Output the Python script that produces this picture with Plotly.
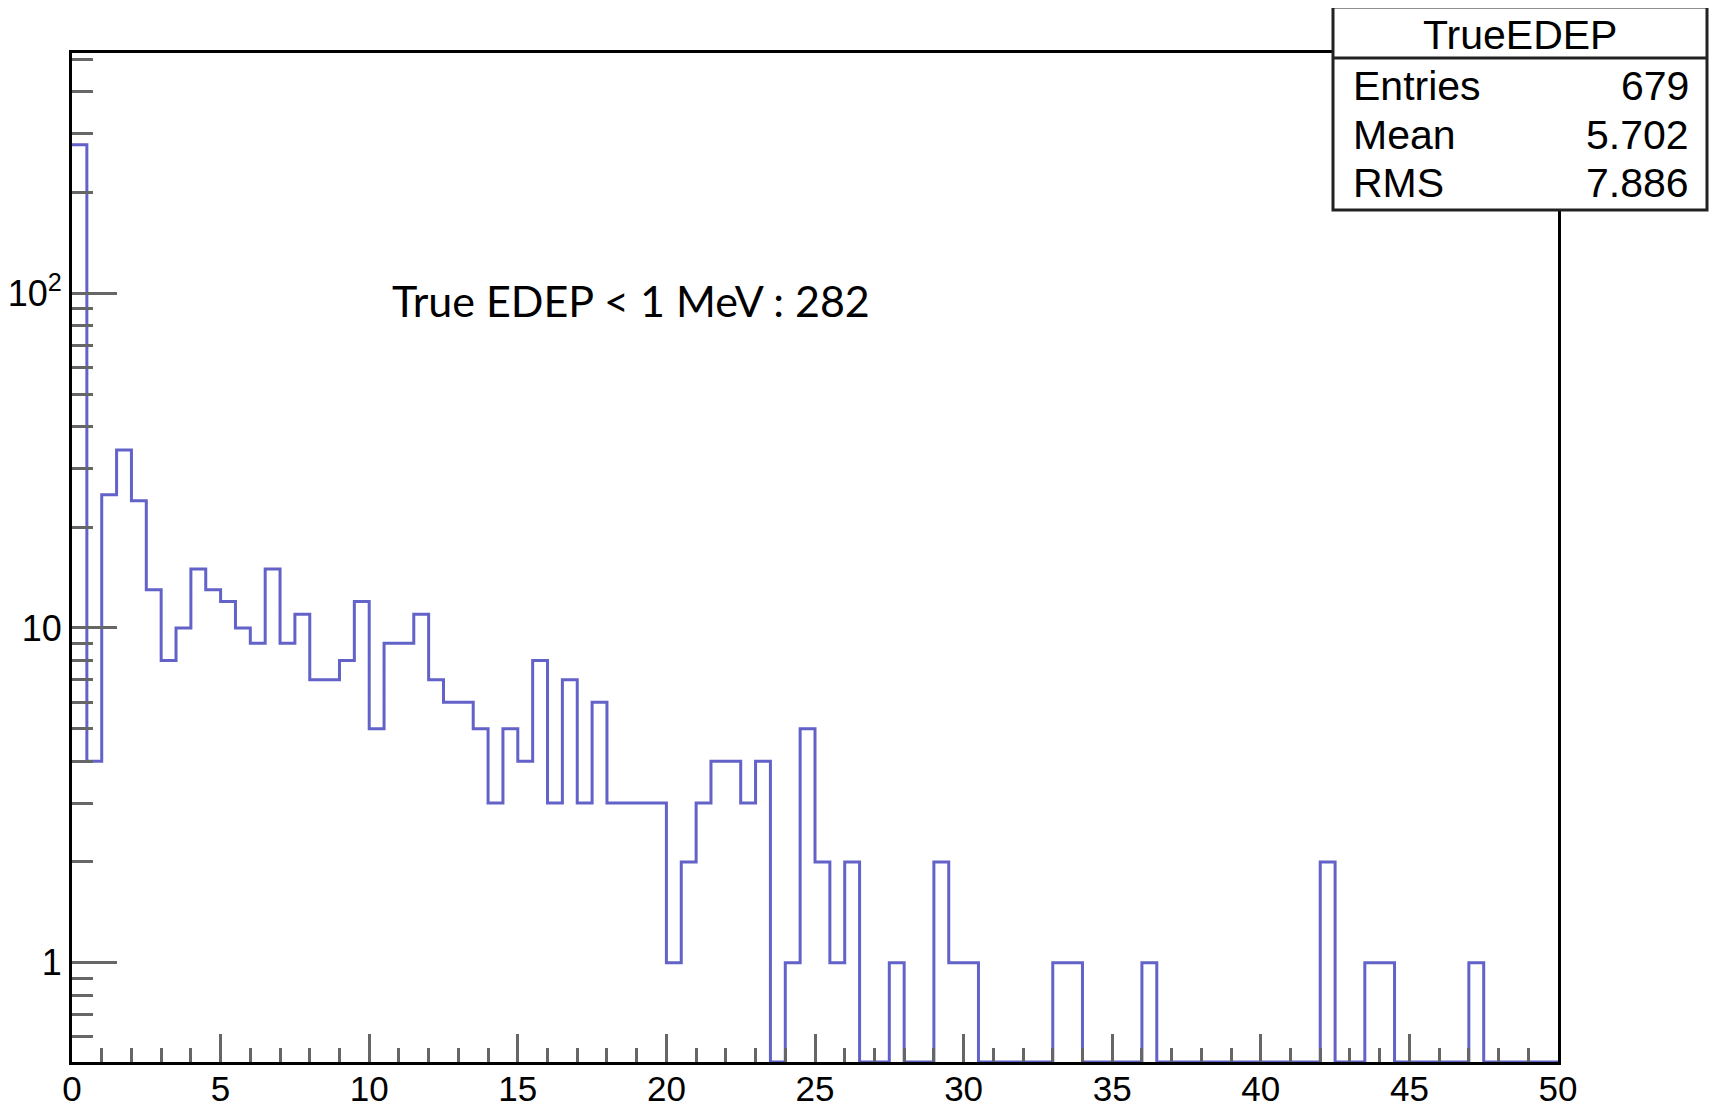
import numpy as np
import plotly.graph_objects as go

# ---- data -------------------------------------------------------------
hist_name = "TrueEDEP"
x_min, x_max = 0.0, 50.0
bin_width = 0.5
counts = [278, 4, 25, 34, 24, 13, 8, 10, 15, 13,
          12, 10, 9, 15, 9, 11, 7, 7, 8, 12,
          5, 9, 9, 11, 7, 6, 6, 5, 3, 5,
          4, 8, 3, 7, 3, 6, 3, 3, 3, 3,
          1, 2, 3, 4, 4, 3, 4, 0, 1, 5,
          2, 1, 2, 0, 0, 1, 0, 0, 2, 1,
          1, 0, 0, 0, 0, 0, 1, 1, 0, 0,
          0, 0, 1, 0, 0, 0, 0, 0, 0, 0,
          0, 0, 0, 0, 2, 0, 0, 1, 1, 0,
          0, 0, 0, 0, 1, 0, 0, 0, 0, 0]
stat_labels = ["Entries", "Mean", "RMS"]
stat_values = ["679", "5.702", "7.886"]
note_text = "True EDEP < 1 MeV : 282"
x_tick_vals = [0, 5, 10, 15, 20, 25, 30, 35, 40, 45, 50]
y_tick_vals = [1, 10, 100]
y_tick_text = ["1", "10", "10<sup>2</sup>"]
y_minor_vals = [0.6, 0.7, 0.8, 0.9, 2, 3, 4, 5, 6, 7, 8, 9,
                20, 30, 40, 50, 60, 70, 80, 90, 200, 300, 400, 500]

# ---- figure -----------------------------------------------------------
# the page body adds an 8 px offset, so the figure is laid out 8 px smaller
OFF = 8
W, H = 1717 - OFF, 1110 - OFF
L, T = 72 - OFF, 53 - OFF
PW, PH = 1486, 1009
R, B = W - L - PW, H - T - PH
y_range = [-0.2967, 2.7179]
y_floor = 10 ** y_range[0]

edges = x_min + bin_width * np.arange(len(counts) + 1)
ys = [max(c, y_floor) for c in counts] + [max(counts[-1], y_floor)]

line_col = "rgb(98,98,200)"
fig = go.Figure()
fig.add_trace(go.Scatter(x=edges, y=ys, mode="lines", line_shape="hv",
                         line=dict(color=line_col, width=3),
                         showlegend=False, hoverinfo="skip"))

x_tick_font = dict(family="Liberation Sans, Arial, sans-serif", size=35, color="black")
y_tick_font = dict(family="Liberation Sans, Arial, sans-serif", size=36, color="black")
fig.update_xaxes(range=[x_min, x_max], tickmode="array", tickvals=x_tick_vals,
                 ticks="inside", ticklen=28, tickwidth=3, tickcolor="#666",
                 minor=dict(ticks="inside", ticklen=14, tickwidth=3, tickcolor="#666",
                            dtick=1, tick0=0, showgrid=False),
                 showline=True, linecolor="black", linewidth=3, mirror=True,
                 showgrid=False, zeroline=False, tickfont=x_tick_font,
                 ticklabelstandoff=-6, automargin=False)
fig.update_yaxes(type="log", range=y_range, tickmode="array", tickvals=y_tick_vals,
                 ticktext=y_tick_text,
                 ticks="inside", ticklen=45, tickwidth=3, tickcolor="#666",
                 minor=dict(ticks="inside", ticklen=21, tickwidth=3, tickcolor="#666",
                            tickmode="array", tickvals=y_minor_vals, showgrid=False),
                 showline=True, linecolor="black", linewidth=3, mirror=True,
                 showgrid=False, zeroline=False, tickfont=y_tick_font,
                 automargin=False)

# window-pixel positions -> paper fractions
def px(X):
    return (X - 72) / PW

def py(Y):
    return (1062 - Y) / PH

# stats box
bx0, bx1, by0, by1 = px(1333), px(1707), py(210), py(7)
fig.add_shape(type="rect", xref="paper", yref="paper", x0=bx0, x1=bx1, y0=by0, y1=by1,
              fillcolor="white", line=dict(color="#222", width=3), layer="above")
fig.add_shape(type="line", xref="paper", yref="paper", x0=bx0, x1=bx1,
              y0=py(58), y1=py(58), line=dict(color="#222", width=3), layer="above")

stat_font = dict(family="Liberation Sans, Arial, sans-serif", size=41, color="black")
fig.add_annotation(x=(bx0 + bx1) / 2, y=py(35), xref="paper", yref="paper",
                   text=hist_name, showarrow=False, xanchor="center", yanchor="middle",
                   font=stat_font)
row_y = [86, 135, 183]
for lab, val, yy in zip(stat_labels, stat_values, row_y):
    fig.add_annotation(x=px(1351), y=py(yy), xref="paper", yref="paper", text=lab,
                       showarrow=False, xanchor="left", yanchor="middle", font=stat_font)
    fig.add_annotation(x=px(1691), y=py(yy), xref="paper", yref="paper", text=val,
                       showarrow=False, xanchor="right", yanchor="middle", font=stat_font)

fig.add_annotation(x=px(631), y=py(300), xref="paper", yref="paper", text=note_text,
                   showarrow=False, xanchor="center", yanchor="middle",
                   font=dict(family="Lato, Open Sans, sans-serif", size=43, color="black"))

fig.update_layout(width=W, height=H, margin=dict(l=L, r=R, t=T, b=B),
                  paper_bgcolor="white", plot_bgcolor="white")

fig.write_html("out.html")
